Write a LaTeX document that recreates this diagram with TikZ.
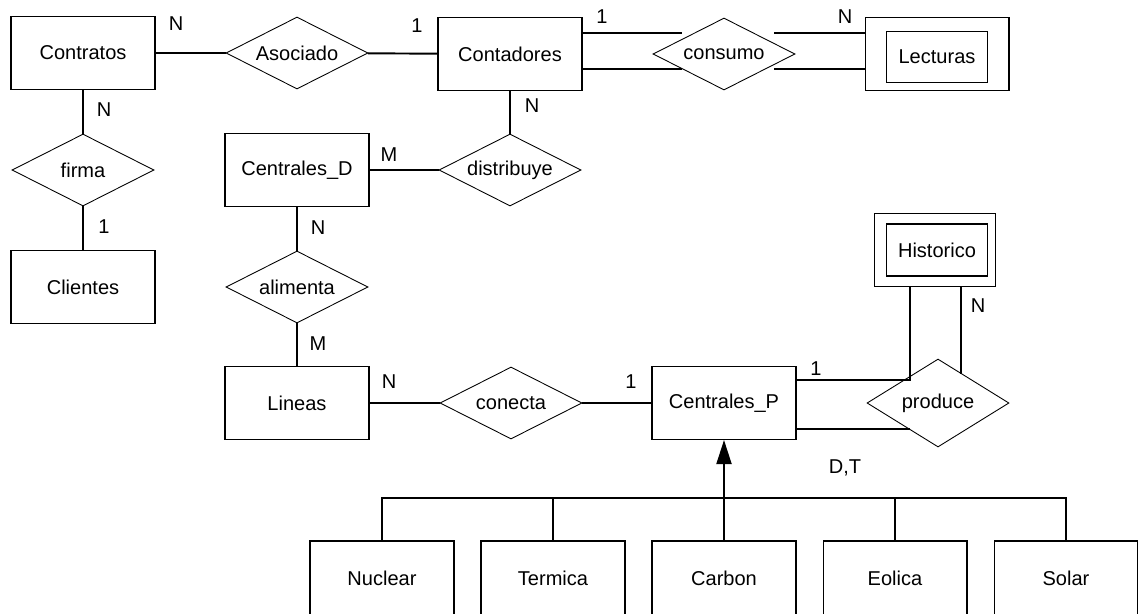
\documentclass[tikz,border=0pt]{standalone}
\usepackage{fontspec}
\setmainfont{Liberation Sans}
\usetikzlibrary{shapes.geometric, arrows.meta}

\tikzset{
  entity/.style={draw, line width=.6pt, minimum width=2.88cm, minimum height=1.46cm, inner sep=0pt},
  relation/.style={draw, diamond, aspect=2, line width=.5pt, minimum width=2.84cm, minimum height=1.44cm, inner sep=0pt},
  link/.style={line width=1.1pt},
  card/.style={inner sep=0pt}
}

\begin{document}
\begin{tikzpicture}[x=.02cm, y=-.02cm, font=\fontsize{11.4}{13}\selectfont]
  \useasboundingbox (0, 0) rectangle (1138, 613);
  \clip (0, 0) rectangle (1138, 613);

  % entities
  \node [entity] (Contratos) at (83, 53) {Contratos};
  \node [entity] (Contadores) at (510, 54) {Contadores};
  \node [entity] (Clientes) at (83, 287) {Clientes};
  \node [entity] (CentralesD) at (297, 170) {Centrales\_D};
  \node [entity] (Lineas) at (297, 403) {Lineas};
  \node [entity] (CentralesP) at (724, 403) {Centrales\_P};

  % weak entities
  \node [entity] (Lecturas) at (937, 54) {};
  \node [entity, minimum width=2.02cm, minimum height=1.02cm] (LecturasIn) at (937, 57) {Lecturas};
  \node [entity, minimum width=2.42cm] (Historico) at (935, 250) {};
  \node [entity, minimum width=2.02cm, minimum height=1.04cm] (HistoricoIn) at (937, 250) {Historico};

  % relations
  \node [relation] (Asociado) at (297, 53) {Asociado};
  \node [relation] (consumo) at (724, 54) {consumo};
  \node [relation] (firma) at (83, 170) {firma};
  \node [relation] (distribuye) at (510, 170) {distribuye};
  \node [relation] (alimenta) at (297, 287) {alimenta};
  \node [relation] (conecta) at (511, 403) {conecta};
  \node [relation, minimum height=1.76cm] (produce) at (938, 403) {produce};

  \draw [link] (Contratos) to (Asociado);
  \draw [link] (Asociado) to (Contadores);
  \draw [link] (Contratos) to (firma);
  \draw [link] (firma) to (Clientes);
  \draw [link] (Contadores) to (distribuye);
  \draw [link] (CentralesD) to (distribuye);
  \draw [link] (CentralesD) to (alimenta);
  \draw [link] (alimenta) to (Lineas);
  \draw [link] (Lineas) to (conecta);
  \draw [link] (conecta) to (CentralesP);

  % consumo, double line
  \coordinate (cTopL) at (682, 33);
  \coordinate (cTopR) at (774, 33);
  \coordinate (cBotL) at (682, 69);
  \coordinate (cBotR) at (774, 69);
  \draw [link] (Contadores.east |- cTopL) to (cTopL);
  \draw [link] (cTopR) to (Lecturas.west |- cTopR);
  \draw [link] (Contadores.east |- cBotL) to (cBotL);
  \draw [link] (cBotR) to (Lecturas.west |- cBotR);

  % produce, double line
  \coordinate (pTop) at (910, 380);
  \coordinate (pBot) at (910, 429);
  \coordinate (pRight) at (961, 374);
  \draw [link] (CentralesP.east |- pTop) to (pTop) to (Historico.south -| pTop);
  \draw [link] (CentralesP.east |- pBot) to (pBot);
  \draw [link] (Historico.south -| pRight) to (pRight);

  % specialisation
  \coordinate (isa) at (724, 498);
  \foreach \name/\x in {Nuclear/382, Termica/553, Carbon/724, Eolica/895, Solar/1066}
  {
    \node [entity, minimum height=1.48cm] (\name) at (\x, 578) {\name};
  }
  \draw [link] (Nuclear.north) to (Nuclear.north |- isa) to (Solar.north |- isa) to (Solar.north);
  \draw [link] (Termica.north) to (Termica.north |- isa);
  \draw [link] (Eolica.north) to (Eolica.north |- isa);
  \draw [link, -{Triangle[length=.48cm, width=.3cm]}] (Carbon.north) to (CentralesP.south);

  % cardinalities
  \node [card] (cAsocN) at (176, 24) {N};
  \node [card] (cAsoc1) at (417, 26) {1};
  \node [card] (cFirmaN) at (104, 110) {N};
  \node [card] (cFirma1) at (104, 227) {1};
  \node [card] (cCons1) at (602, 17) {1};
  \node [card] (cConsN) at (845, 17) {N};
  \node [card] (cDistN) at (532, 106) {N};
  \node [card] (cDistM) at (389, 155) {M};
  \node [card] (cAlimN) at (318, 228) {N};
  \node [card] (cAlimM) at (318, 344) {M};
  \node [card] (cConeN) at (389, 382) {N};
  \node [card] (cCone1) at (631, 382) {1};
  \node [card] (cProd1) at (816, 369) {1};
  \node [card] (cProdN) at (978, 306) {N};
  \node [card] (cIsa) at (845, 468) {D,T};

\end{tikzpicture}
\end{document}
